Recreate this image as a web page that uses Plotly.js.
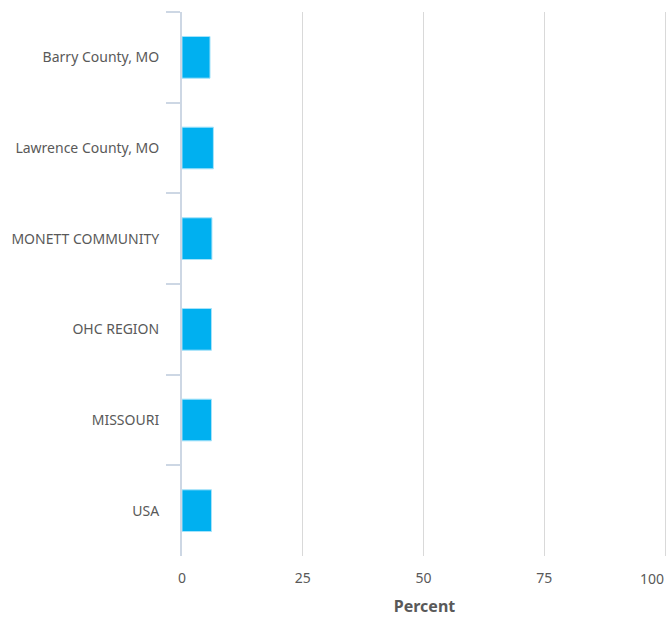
<!DOCTYPE html>
<html><head><meta charset="utf-8">
<script src="https://cdn.plot.ly/plotly-3.0.1.min.js"></script>
<style>body{margin:0;padding:0;background:#fff}#chart{width:667px;height:618px}</style>
</head><body><div id="chart"></div>
<script>
const categories = ["Barry County, MO","Lawrence County, MO","MONETT COMMUNITY","OHC REGION","MISSOURI","USA"];
const values = [5.8, 6.5, 6.2, 6.1, 6.1, 6.1];
const xTicks = [0, 25, 50, 75, 100];

const xRange = [0, 100.4];
const lastTick = xTicks[xTicks.length - 1];

const trace = {
  type: "bar",
  orientation: "h",
  y: categories,
  x: values,
  marker: {color: "#00b0f0", line: {color: "#a6e3fa", width: 1}},
  hoverinfo: "x+y"
};
const tickFont = {size: 14, color: "#595959"};
const layout = {
  width: 667, height: 618,
  margin: {l: 182, r: 0, t: 12, b: 62},
  paper_bgcolor: "#fff", plot_bgcolor: "#fff",
  bargap: 0.54,
  showlegend: false,
  font: {family: "Source Sans Pro, Noto Sans, sans-serif", color: "#595959", size: 14},
  xaxis: {
    range: xRange, tickvals: xTicks,
    ticktext: xTicks.map(v => v === lastTick ? "" : String(v)),
    showgrid: true, gridcolor: "#d9d9d9", gridwidth: 1,
    zeroline: false, showline: false, ticks: "",
    tickfont: tickFont,
    ticklabelstandoff: 12,
    title: {text: "Percent", font: {size: 16, color: "#595959", weight: "bold"}, standoff: 14},
    fixedrange: true
  },
  yaxis: {
    autorange: "reversed", type: "category",
    showline: true, linecolor: "#cdd7e4", linewidth: 2,
    ticks: "outside", tickson: "boundaries", ticklen: 14, tickcolor: "#cdd7e4", tickwidth: 2,
    showgrid: false, zeroline: false,
    tickfont: tickFont,
    ticklabelstandoff: 18,
    fixedrange: true
  },
  annotations: [{
    x: lastTick, xref: "x", y: 0, yref: "paper",
    text: String(lastTick), showarrow: false,
    xanchor: "right", yanchor: "top", yshift: -12, borderpad: 0,
    font: tickFont
  }]
};
Plotly.newPlot("chart", [trace], layout, {displayModeBar: false, staticPlot: true});
</script></body></html>
